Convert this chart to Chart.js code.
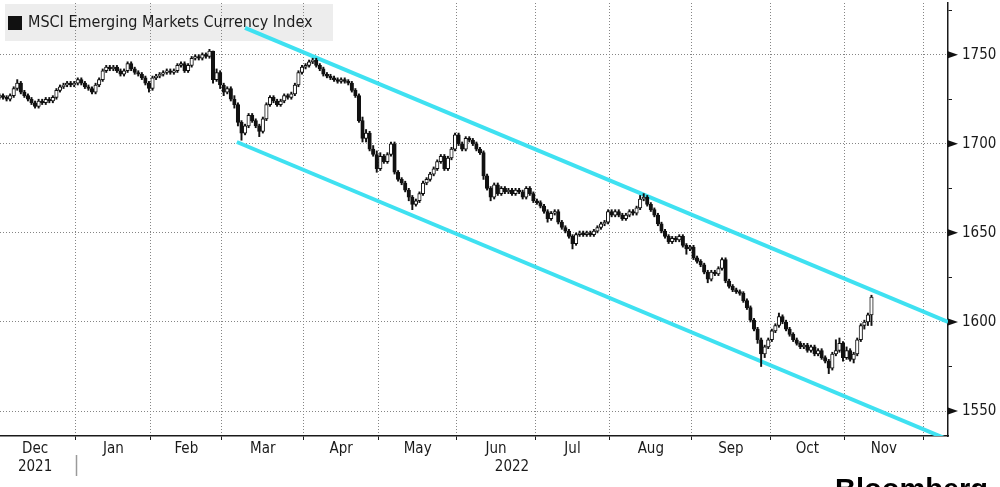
<!DOCTYPE html>
<html lang="en">
<head>
<meta charset="UTF-8" />
<title>MSCI Emerging Markets Currency Index</title>
<script src="https://cdn.jsdelivr.net/npm/chart.js"></script>
<style>
  html, body { margin: 0; padding: 0; background: #ffffff; }
  .wrap { position: relative; width: 1000px; height: 487px; }
</style>
</head>
<body>
<div class="wrap"><canvas id="chart"></canvas></div>
<script>
// one slot per weekday, slot 0 = Thu 2 Dec 2021, last candle = Thu 10 Nov 2022
const opens = [
  1726,1727,1726,1725,1727,1731,1734,1729,1727,1725,1723,1721,1724,1723,1725,1724,1726,1730,1732,1733,1734,1733,
  1734,1736,1734,1732,1731,1729,1733,1736,1741,1743,1742,1743,1741,1739,1741,1745,1742,1740,1739,1737,1734,
  1731,1737,1738,1739,1740,1741,1740,1741,1744,1745,1741,1744,1748,1749,1748,1750,1749,1752,1736,1740,
  1733,1729,1731,1725,1722,1712,1706,1710,1716,1713,1710,1707,1714,1722,1726,1724,1722,1724,1727,1726,1728,1733,1740,
  1743,1744,1746,1747,1744,1742,1739,1738,1737,1736,1735,1736,1735,1734,1730,1727,1713,1703,1706,1697,1694,
  1686,1693,1690,1694,1700,1684,1680,1678,1674,1670,1666,1668,1672,1678,1680,1683,1686,1690,1693,1686,1692,1697,
  1705,1700,1697,1703,1702,1700,1697,1695,1682,1675,1670,1677,1672,1675,1673,1674,1672,1674,1673,1670,1675,1672,
  1668,1667,1665,1662,1658,1661,1662,1656,1653,1651,1648,1644,1649,1650,1649,1650,1649,1651,1653,1655,1656,
  1662,1660,1662,1660,1658,1660,1662,1661,1664,1669,1670,1666,1663,1660,1655,1651,1648,1645,1647,1646,1648,1643,1641,
  1642,1636,1634,1632,1628,1624,1628,1627,1630,1635,1623,1620,1618,1617,1616,1612,1608,1601,1596,1590,1582,1586,
  1590,1595,1598,1603,1600,1596,1593,1590,1588,1586,1587,1584,1586,1582,1584,1580,1578,1574,1582,1584,1588,
  1580,1584,1579,1582,1590,1598,1600,1604
];
const closes = [
  1727,1726,1725,1727,1731,1734,1729,1727,1725,1723,1721,1724,1723,1725,1724,1726,1730,1732,1733,1734,1733,1734,
  1736,1734,1732,1731,1729,1733,1736,1741,1743,1742,1743,1741,1739,1741,1745,1742,1740,1739,1737,1734,1731,
  1737,1738,1739,1740,1741,1740,1741,1744,1745,1741,1744,1748,1749,1748,1750,1749,1752,1736,1740,1733,
  1729,1731,1725,1722,1712,1706,1710,1716,1713,1710,1707,1714,1722,1726,1724,1722,1724,1727,1726,1728,1733,1740,1743,
  1744,1746,1747,1744,1742,1739,1738,1737,1736,1735,1736,1735,1734,1730,1727,1713,1703,1706,1697,1694,1686,
  1693,1690,1694,1700,1684,1680,1678,1674,1670,1666,1668,1672,1678,1680,1683,1686,1690,1693,1686,1692,1697,1705,
  1700,1697,1703,1702,1700,1697,1695,1682,1675,1670,1677,1672,1675,1673,1674,1672,1674,1673,1670,1675,1672,1668,
  1667,1665,1662,1658,1661,1662,1656,1653,1651,1648,1644,1649,1650,1649,1650,1649,1651,1653,1655,1656,1662,
  1660,1662,1660,1658,1660,1662,1661,1664,1669,1670,1666,1663,1660,1655,1651,1648,1645,1647,1646,1648,1643,1641,1642,
  1636,1634,1632,1628,1624,1628,1627,1630,1635,1623,1620,1618,1617,1616,1612,1608,1601,1596,1590,1582,1586,1590,
  1595,1598,1603,1600,1596,1593,1590,1588,1586,1587,1584,1586,1582,1584,1580,1578,1574,1582,1584,1588,1580,
  1584,1579,1582,1590,1598,1600,1604,1614
];
const highs = [
  1728,1728,1727,1728,1732,1736,1735,1730,1728,1726,1724,1725,1725,1726,1726,1727,1731,1733,1734,1735,1735,1735,
  1737,1737,1735,1733,1732,1734,1737,1742,1744,1744,1744,1744,1742,1742,1746,1746,1743,1741,1740,1738,1735,
  1738,1739,1740,1741,1742,1742,1742,1745,1746,1746,1745,1749,1750,1750,1751,1751,1753,1752,1742,1741,
  1734,1732,1732,1727,1723,1713,1711,1717,1717,1714,1711,1715,1723,1727,1727,1725,1725,1728,1728,1729,1734,1741,1744,
  1745,1747,1748,1748,1745,1743,1740,1739,1738,1737,1737,1737,1736,1735,1731,1728,1715,1708,1707,1699,1696,
  1695,1694,1695,1701,1701,1685,1681,1679,1675,1671,1669,1673,1679,1681,1684,1687,1691,1694,1694,1693,1698,1706,
  1706,1701,1704,1704,1703,1701,1698,1696,1683,1676,1678,1678,1676,1676,1675,1675,1675,1675,1674,1676,1676,1673,
  1669,1668,1666,1663,1662,1663,1663,1657,1654,1652,1649,1650,1651,1651,1651,1651,1652,1654,1656,1657,1663,
  1663,1663,1663,1661,1661,1663,1663,1665,1671,1672,1671,1667,1664,1661,1656,1652,1649,1648,1648,1649,1649,1644,1643,
  1643,1637,1635,1633,1629,1629,1629,1631,1636,1636,1624,1621,1619,1618,1617,1613,1609,1602,1597,1591,1587,1591,
  1596,1599,1605,1604,1601,1597,1594,1591,1589,1588,1588,1587,1587,1585,1585,1581,1579,1583,1590,1591,1589,
  1586,1585,1583,1591,1599,1601,1605,1615
];
const lows = [
  1725,1725,1724,1724,1726,1730,1728,1726,1724,1722,1720,1720,1722,1722,1723,1723,1725,1729,1731,1732,1732,1732,
  1733,1733,1731,1730,1728,1728,1732,1735,1740,1741,1741,1740,1738,1738,1740,1741,1739,1738,1736,1733,1729,
  1730,1736,1737,1738,1739,1739,1739,1740,1743,1740,1740,1743,1747,1747,1747,1748,1748,1734,1735,1731,
  1727,1728,1724,1720,1710,1702,1705,1709,1712,1709,1704,1706,1713,1721,1723,1721,1721,1723,1725,1725,1727,1732,1739,
  1742,1743,1745,1743,1741,1738,1737,1736,1735,1734,1734,1734,1733,1729,1726,1712,1701,1701,1696,1693,1684,
  1685,1689,1689,1693,1683,1679,1677,1673,1668,1663,1665,1667,1671,1677,1679,1682,1685,1689,1685,1685,1691,1696,
  1699,1696,1696,1701,1699,1696,1694,1680,1674,1668,1669,1671,1671,1672,1672,1671,1671,1672,1669,1669,1671,1667,
  1666,1664,1661,1656,1657,1660,1655,1652,1650,1647,1641,1643,1648,1648,1648,1648,1648,1650,1652,1654,1655,
  1659,1659,1659,1657,1657,1659,1660,1660,1663,1668,1665,1662,1659,1654,1650,1647,1644,1644,1645,1645,1642,1638,1640,
  1635,1633,1631,1627,1622,1623,1626,1626,1629,1622,1619,1617,1616,1615,1611,1607,1600,1595,1588,1575,1580,1585,
  1589,1594,1597,1599,1595,1592,1589,1587,1585,1585,1583,1583,1581,1581,1579,1577,1571,1573,1581,1583,1578,
  1579,1578,1577,1581,1589,1596,1598,1598
];

// trend channel end points [slot, value]
const upperChannel = [[69, 1765], [266.5, 1600]];
const lowerChannel = [[66.7, 1701], [266.5, 1534]];

// month boundaries in slot units, month labels, year labels
const monthEdges = [-1.5, 21.5, 42.5, 62.5, 85.5, 106.5, 128.5, 150.5, 171.5, 194.5, 216.5, 237.5, 259.5];
const monthLabels = ["Dec", "Jan", "Feb", "Mar", "Apr", "May", "Jun", "Jul", "Aug", "Sep", "Oct", "Nov"];
const yearLabels = ["2021", "2022"];
const yearCenters = [10, 144];
const yTicks = [1550, 1575, 1600, 1625, 1650, 1675, 1700, 1725, 1750, 1775];

const FONT = "'DejaVu Sans Condensed', 'DejaVu Sans', sans-serif";
const INK = "#1a1a1a";
const GRID = "#858585";
const CYAN = "#3fe1f1";

// x ticks: edges carry the grid, centres carry the labels
const xTicks = [];
monthEdges.slice(1).forEach(v => xTicks.push({ value: v, label: "", edge: true }));
monthLabels.forEach((m, k) => {
  const c = (monthEdges[k] + monthEdges[k + 1]) / 2;
  xTicks.push({ value: c, label: k === 0 ? [m, yearLabels[0]] : m, edge: false });
});
xTicks.push({ value: yearCenters[1], label: ["", yearLabels[1]], edge: false });
xTicks.sort((a, b) => a.value - b.value);

const bodies = closes.map((c, i) => ({ x: i, y: [opens[i], c] }));
const wicks = closes.map((c, i) => ({ x: i, y: [lows[i], highs[i]] }));

const decor = {
  id: "decor",
  beforeDraw(chart) {
    const ctx = chart.ctx;
    ctx.save();
    ctx.fillStyle = "#ededed";
    ctx.fillRect(5, 4, 328, 37);
    ctx.restore();
  },
  beforeDatasetsDraw(chart) {
    const ctx = chart.ctx;
    ctx.save();
    ctx.fillStyle = "#111";
    ctx.fillRect(8, 16, 14, 14);
    ctx.fillStyle = "#1c1c1c";
    ctx.font = "16px " + FONT;
    ctx.textBaseline = "middle";
    ctx.fillText("MSCI Emerging Markets Currency Index", 28, 23);
    ctx.restore();
  },
  afterDraw(chart) {
    const ctx = chart.ctx;
    const { right } = chart.chartArea;
    const y = chart.scales.y;
    const x = chart.scales.x;
    ctx.save();
    ctx.fillStyle = "#111";
    yTicks.filter(v => v % 50 === 0).forEach(v => {
      const py = y.getPixelForValue(v);
      ctx.beginPath();
      ctx.moveTo(right, py - 3.5);
      ctx.lineTo(right + 10, py);
      ctx.lineTo(right, py + 3.5);
      ctx.closePath();
      ctx.fill();
    });
    // year separator
    const sx = Math.round(x.getPixelForValue(monthEdges[1])) + 0.5;
    ctx.strokeStyle = "#9a9a9a";
    ctx.lineWidth = 1.5;
    ctx.beginPath();
    ctx.moveTo(sx, 455);
    ctx.lineTo(sx, 476);
    ctx.stroke();
    // logo, cut by the bottom edge
    ctx.fillStyle = "#000";
    ctx.font = "bold 29px 'Liberation Sans', Arial, sans-serif";
    ctx.textBaseline = "alphabetic";
    ctx.fillText("Bloomberg", 835, 499);
    ctx.restore();
  }
};

new Chart(document.getElementById("chart"), {
  type: "bar",
  data: {
    datasets: [
      {
        data: bodies,
        backgroundColor: ctx => (closes[ctx.dataIndex] >= opens[ctx.dataIndex] ? "#ffffff" : "#111111"),
        borderColor: "#111111",
        borderWidth: 1,
        borderSkipped: false,
        barThickness: 3.5,
        minBarLength: 1.5,
        grouped: false,
        order: 1
      },
      {
        data: wicks,
        backgroundColor: "#111111",
        borderWidth: 0,
        barThickness: 1.3,
        grouped: false,
        order: 2
      },
      {
        type: "line",
        data: upperChannel.map(p => ({ x: p[0], y: p[1] })),
        borderColor: CYAN,
        borderWidth: 4,
        pointRadius: 0,
        fill: false,
        order: 3
      },
      {
        type: "line",
        data: lowerChannel.map(p => ({ x: p[0], y: p[1] })),
        borderColor: CYAN,
        borderWidth: 4,
        pointRadius: 0,
        fill: false,
        order: 3
      }
    ]
  },
  options: {
    responsive: true,
    maintainAspectRatio: false,
    animation: false,
    events: [],
    layout: { padding: { top: 3, bottom: 11, left: 0, right: 0 } },
    plugins: { legend: { display: false }, tooltip: { enabled: false } },
    scales: {
      x: {
        type: "linear",
        position: "bottom",
        min: 0.15,
        max: 266.5,
        offset: false,
        afterBuildTicks: axis => { axis.ticks = xTicks.map(t => ({ value: t.value })); },
        afterFit: axis => { axis.paddingLeft = 0; axis.paddingRight = 0; },
        ticks: {
          autoSkip: false,
          maxRotation: 0,
          minRotation: 0,
          padding: 0,
          color: INK,
          font: { family: FONT, size: 15 },
          callback: (v, i) => xTicks[i].label
        },
        grid: {
          offset: false,
          color: ctx => (xTicks[ctx.index] && xTicks[ctx.index].edge ? GRID : "rgba(0,0,0,0)"),
          tickColor: ctx => (xTicks[ctx.index] && xTicks[ctx.index].edge ? INK : "rgba(0,0,0,0)"),
          tickLength: 4,
          lineWidth: 1
        },
        border: { display: true, color: INK, width: 1.5, dash: [1, 2] }
      },
      y: {
        type: "linear",
        position: "right",
        min: 1536,
        max: 1779,
        afterBuildTicks: axis => { axis.ticks = yTicks.map(v => ({ value: v })); },
        afterFit: axis => { axis.width = 52; axis.paddingTop = 0; axis.paddingBottom = 0; },
        ticks: {
          padding: 10,
          color: INK,
          font: { family: FONT, size: 15 },
          callback: v => (v % 50 === 0 ? String(v) : "")
        },
        grid: {
          color: ctx => (ctx.tick && ctx.tick.value % 50 === 0 ? GRID : "rgba(0,0,0,0)"),
          tickColor: INK,
          tickLength: 4,
          lineWidth: 1
        },
        border: { display: true, color: INK, width: 1.5, dash: [1, 2] }
      }
    }
  },
  plugins: [decor]
});
</script>
</body>
</html>
